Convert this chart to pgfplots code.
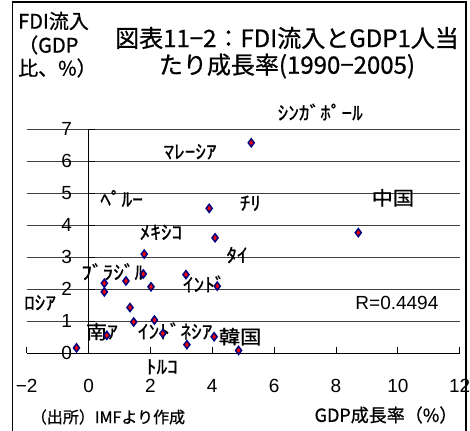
\documentclass[border=0pt]{standalone}
\usepackage{fontspec}
\usepackage{pgfplots}
\pgfplotsset{compat=1.18}
\setmainfont[FakeBold=0.8]{Noto Sans CJK JP}
\newfontfamily\lab[FakeStretch=1.12, FakeBold=0.8]{Noto Sans CJK JP}
\newfontfamily\arial{Liberation Sans}
\newcommand{\fs}[1]{\fontsize{#1}{#1}\selectfont}
\definecolor{navy}{RGB}{0,0,128}
\begin{document}
\begin{tikzpicture}
\useasboundingbox (-26.7pt,-77pt) rectangle (443.3pt,353pt);
\draw[black, line width=1.1pt] (-14pt,-80pt) -- (-14pt,351pt) -- (439.3pt,351pt) -- (439.3pt,-80pt);
\begin{axis}[
  at={(0pt,0pt)}, anchor=south west,
  scale only axis, width=433pt, height=224pt,
  xmin=-2, xmax=12, ymin=0, ymax=7,
  axis x line=bottom, axis y line=center,
  axis line style={-, black, line width=0.8pt},
  hide obscured x ticks=false, hide obscured y ticks=false,
  xtick={-2,0,2,4,6,8,10,12},
  xticklabels={−2,0,2,4,6,8,10,12},
  ytick={0,1,2,3,4,5,6,7},
  yticklabels={0,1,2,3,4,5,6,7},
  tick label style={font=\arial\fs{19}},
  xticklabel style={yshift=-23pt},
  yticklabel style={xshift=-13pt},
  tick align=inside,
  major tick length=6pt,
  tick style={black, line width=0.8pt},
  ymajorgrids,
  grid style={black!75, line width=0.9pt},
  clip=false,
]
\addplot[only marks, mark=diamond*, mark size=4pt,
  mark options={fill=red, draw=navy, line width=1.5pt}] coordinates {
  (1.80,3.09) (3.90,4.52) (4.09,3.60) (5.26,6.57) (8.72,3.76)
  (1.77,2.47) (3.15,2.45) (0.51,2.18) (1.21,2.25) (2.02,2.07)
  (4.16,2.09) (0.51,1.91) (1.34,1.42) (1.46,0.97) (2.13,1.03)
  (0.59,0.55) (2.40,0.61) (3.18,0.26) (4.06,0.51) (4.85,0.08)
  (-0.39,0.16)
};
\begin{scope}[every node/.style={font=\lab\fs{19}, inner sep=0pt}]
\node at (axis cs:7.49,7.53) {ｼﾝｶﾞﾎﾟｰﾙ};
\node at (axis cs:3.28,6.29) {ﾏﾚｰｼｱ};
\node at (axis cs:1.07,4.83) {ﾍﾟﾙｰ};
\node at (axis cs:5.23,4.68) {ﾁﾘ};
\node at (axis cs:9.84,4.85) {中国};
\node at (axis cs:2.34,3.77) {ﾒｷｼｺ};
\node at (axis cs:4.80,3.06) {ﾀｲ};
\node at (axis cs:0.80,2.54) {ﾌﾞﾗｼﾞﾙ};
\node at (axis cs:3.74,2.16) {ｲﾝﾄﾞ};
\node at (axis cs:-1.57,1.57) {ﾛｼｱ};
\node at (axis cs:0.43,0.67) {南ｱ};
\node at (axis cs:2.80,0.69) {ｲﾝﾄﾞﾈｼｱ};
\node at (axis cs:4.90,0.51) {韓国};
\node at (axis cs:2.37,-0.43) {ﾄﾙｺ};
\end{scope}
\node[font=\arial\fs{19}, inner sep=0pt] at (axis cs:9.97,1.57) {R=0.4494};
\end{axis}
\node[font=\fs{24}, inner sep=0pt] at (260.3pt,315pt) {図表11−2：FDI流入とGDP1人当};
\node[font=\fs{24}, inner sep=0pt] at (260.3pt,287pt) {たり成長率(1990−2005)};
\node[font=\fs{20}, inner sep=0pt, anchor=west] at (-8.7pt,332pt) {FDI流入};
\node[font=\fs{20}, inner sep=0pt, anchor=west] at (-8.7pt,308pt) {（GDP};
\node[font=\fs{20}, inner sep=0pt, anchor=west] at (-8.7pt,285pt) {比、\%）};
\node[font=\fs{16}, inner sep=0pt] at (81.3pt,-64pt) {（出所）IMFより作成};
\node[font=\fs{18}, inner sep=0pt] at (359.3pt,-62pt) {GDP成長率（\%）};
\end{tikzpicture}
\end{document}
